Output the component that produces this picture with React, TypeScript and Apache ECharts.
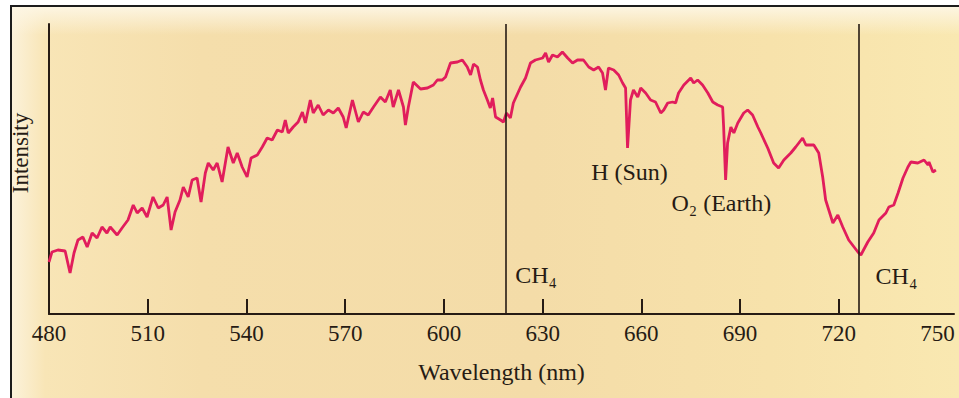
import React, { useEffect, useRef } from "react";
import * as echarts from "echarts";

// Wavelength samples (nm) and relative intensity
const wavelengths = [
  480.0, 480.9, 482.7, 484.9, 486.4, 487.6, 488.8, 490.3, 491.6, 493.1, 494.6, 496.1, 497.6, 498.6,
  500.7, 502.2, 504.0, 505.6, 506.8, 508.3, 509.8, 511.6, 513.2, 514.7, 515.9, 517.1, 518.3, 519.8,
  520.8, 522.3, 523.5, 525.0, 526.2, 527.5, 528.4, 529.9, 531.1, 532.6, 534.4, 536.0, 537.2, 538.7,
  540.2, 541.4, 543.3, 544.8, 546.3, 547.8, 549.4, 550.9, 551.8, 552.7, 554.2, 555.7, 557.0, 557.9,
  559.4, 560.3, 561.8, 563.3, 564.9, 566.4, 567.9, 569.4, 570.3, 572.2, 574.0, 575.5, 577.0, 578.6,
  580.7, 582.2, 583.7, 584.6, 586.2, 587.7, 588.3, 589.2, 590.7, 592.9, 595.0, 596.8, 598.0, 599.5,
  600.5, 602.0, 604.1, 605.6, 607.1, 608.1, 609.0, 610.2, 611.1, 612.0, 613.2, 614.1, 614.8, 615.7,
  617.2, 618.1, 619.0, 620.2, 621.1, 623.3, 624.8, 626.3, 627.8, 630.0, 630.9, 631.8, 633.0, 634.5,
  636.0, 637.6, 639.1, 640.6, 642.4, 644.0, 645.5, 647.0, 648.2, 649.1, 650.0, 651.6, 653.1, 654.3,
  655.2, 655.8, 656.7, 657.6, 658.9, 659.8, 661.3, 662.8, 664.3, 665.9, 666.8, 668.0, 669.5, 670.4,
  671.3, 672.9, 675.0, 675.9, 677.1, 678.6, 680.2, 681.7, 683.2, 684.7, 685.0, 685.6, 686.2, 687.2,
  688.1, 689.3, 691.1, 692.3, 693.8, 695.4, 696.3, 698.4, 700.2, 701.7, 703.3, 705.4, 706.9, 709.0,
  710.0, 712.4, 713.9, 715.1, 716.0, 718.2, 719.7, 721.2, 723.0, 725.8, 726.7, 728.8, 730.6, 732.2,
  734.3, 735.2, 736.7, 738.0, 739.5, 741.0, 741.9, 744.0, 745.9, 747.1, 747.4, 748.6, 749.5,
];

const intensities = [
  52, 62, 64, 63, 41, 61, 74, 77, 67, 81, 76, 87, 81, 87,
  79, 86, 94, 109, 101, 106, 97, 117, 106, 109, 117, 84, 102, 114,
  127, 117, 134, 136, 112, 141, 151, 144, 151, 132, 167, 151, 161, 147,
  137, 156, 159, 167, 176, 174, 184, 182, 194, 181, 187, 192, 202, 191,
  214, 201, 209, 199, 204, 201, 206, 197, 186, 214, 192, 202, 199, 207,
  217, 212, 224, 207, 224, 207, 189, 207, 232, 225, 226, 229, 234, 234,
  237, 251, 252, 254, 247, 239, 250, 247, 234, 224, 214, 206, 216, 197,
  194, 192, 201, 196, 211, 227, 236, 251, 254, 256, 261, 252, 259, 257,
  262, 256, 251, 254, 254, 247, 244, 247, 241, 224, 246, 244, 239, 231,
  226, 166, 214, 224, 217, 226, 221, 214, 212, 201, 204, 211, 212, 211,
  221, 229, 236, 231, 234, 229, 221, 212, 209, 207, 187, 134, 171, 187,
  181, 191, 201, 204, 199, 187, 181, 166, 151, 146, 154, 161, 167, 176,
  169, 169, 161, 137, 114, 91, 99, 87, 74, 62, 59, 72, 81, 94,
  101, 107, 109, 121, 136, 147, 152, 151, 154, 149, 152, 142, 144,
];

const tickLabels = [480, 510, 540, 570, 600, 630, 660, 690, 720, 750];
const tickMarks = [510, 540, 570, 600, 630, 660, 690, 720];
const ch4Lines = [618.7, 726.1];

const annotations = [
  { text: "H (Sun)", x: 656.4, y: 142 },
  { text: "O\u2082 (Earth)", x: 684.3, y: 111 },
  { text: "CH\u2084", x: 628.0, y: 39 },
  { text: "CH\u2084", x: 737.5, y: 38 },
];

const INK = "#261b14";
const FONT = "'Liberation Serif', 'Times New Roman', serif";

export default function App() {
  const ref = useRef<HTMLDivElement>(null);

  useEffect(() => {
    if (!ref.current) return;
    const chart = echarts.init(ref.current, null, { renderer: "svg" });
    const data = wavelengths.map((w, i) => [w, intensities[i]]);
    chart.setOption({
      animation: false,
      backgroundColor: "transparent",
      grid: { left: 49, right: 5, top: 24, bottom: 84 },
      xAxis: {
        type: "value",
        min: 480,
        max: 755,
        interval: 30,
        name: "Wavelength (nm)",
        nameLocation: "middle",
        nameGap: 46,
        nameTextStyle: { fontFamily: FONT, fontSize: 24, color: INK },
        axisLine: { show: true, onZero: false, lineStyle: { color: INK, width: 2 } },
        axisTick: {
          show: true,
          inside: true,
          length: 15,
          customValues: tickMarks,
          lineStyle: { color: INK, width: 2 },
        },
        axisLabel: {
          customValues: tickLabels,
          fontFamily: FONT,
          fontSize: 23,
          color: INK,
          margin: 8,
        },
        splitLine: { show: false },
      },
      yAxis: {
        type: "value",
        min: 0,
        max: 290,
        name: "Intensity",
        nameLocation: "middle",
        nameRotate: 90,
        nameGap: 17,
        nameTextStyle: { fontFamily: FONT, fontSize: 23, color: INK, padding: [0, 0, 0, 32] },
        axisLine: { show: true, onZero: false, lineStyle: { color: INK, width: 2 } },
        axisTick: { show: false },
        axisLabel: { show: false },
        splitLine: { show: false },
      },
      series: [
        {
          type: "line",
          data,
          showSymbol: false,
          symbol: "none",
          lineStyle: { color: "#e11d5c", width: 2.8 },
          z: 3,
          markLine: {
            silent: true,
            symbol: "none",
            animation: false,
            label: { show: false },
            lineStyle: { color: INK, width: 1.6, type: "solid" },
            data: ch4Lines.map((v) => ({ xAxis: v })),
          },
          markPoint: {
            silent: true,
            animation: false,
            symbol: "circle",
            symbolSize: 1,
            itemStyle: { color: "rgba(0,0,0,0)" },
            label: {
              show: true,
              position: "inside",
              fontFamily: FONT,
              fontSize: 24,
              color: INK,
            },
            data: annotations.map((a) => ({
              coord: [a.x, a.y],
              value: a.text,
              label: { formatter: a.text },
            })),
          },
        },
      ],
    });
    return () => chart.dispose();
  }, []);

  return (
    <div
      style={{
        position: "fixed",
        left: 0,
        top: 0,
        width: 959,
        height: 398,
        background: "#ffffff",
        overflow: "hidden",
      }}
    >
      <div
        style={{
          position: "absolute",
          left: 10,
          top: 5,
          right: 0,
          bottom: 0,
          borderTop: "2px solid #1c1c1c",
          borderLeft: "2px solid #1c1c1c",
          background:
            "linear-gradient(180deg, rgba(253,246,228,0.95) 0px, rgba(253,246,228,0) 28px), linear-gradient(90deg, #fcf2da 0%, #f8e5b6 3.5%, #f5deab 20%, #f4dca8 55%, #f7e2ab 80%, #f9e8b1 100%)",
        }}
      />
      <div
        ref={ref}
        style={{ position: "absolute", left: 0, top: 0, width: 959, height: 398 }}
      />
    </div>
  );
}
